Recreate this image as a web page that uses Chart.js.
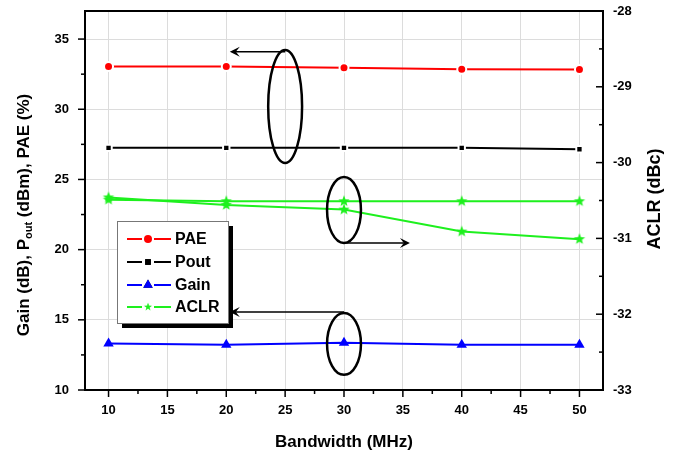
<!DOCTYPE html>
<html>
<head>
<meta charset="utf-8">
<script src="https://cdn.jsdelivr.net/npm/chart.js@4.4.1/dist/chart.umd.min.js"></script>
<style>
  html, body { margin: 0; padding: 0; background: #fff; }
  canvas { display: block; }
</style>
</head>
<body>
<canvas id="chart" width="698" height="466"></canvas>
<script>
// values
const bandwidth = [10, 20, 30, 40, 50];
const pae = [33.05, 33.05, 32.95, 32.85, 32.83];
const pout = [27.25, 27.25, 27.25, 27.25, 27.15];
const gain = [13.32, 13.22, 13.36, 13.22, 13.22];
const aclrLower = [-30.46, -30.56, -30.62, -30.91, -31.01];
const aclrUpper = [-30.49, -30.51, -30.51, -30.51, -30.51];

const xTicks = [10, 15, 20, 25, 30, 35, 40, 45, 50];
const leftTicks = [10, 15, 20, 25, 30, 35];
const rightTicks = [-33, -32, -31, -30, -29, -28];

const FONT = '"Liberation Sans", Arial, sans-serif';
const GREEN = '#1ef01e';

function starCanvas(r, color) {
  const c = document.createElement('canvas');
  c.width = c.height = r * 2 + 2;
  const g = c.getContext('2d');
  g.fillStyle = color;
  g.beginPath();
  for (let i = 0; i < 10; i++) {
    const rad = i % 2 === 0 ? r : r * 0.42;
    const a = -Math.PI / 2 + i * Math.PI / 5;
    g.lineTo(r + 1 + rad * Math.cos(a), r + 1 + rad * Math.sin(a));
  }
  g.closePath();
  g.fill();
  return c;
}
const star = starCanvas(6, GREEN);

const pts = (ys) => bandwidth.map((b, i) => ({ x: b, y: ys[i] }));

function minorBetween(ticks) {
  const out = [];
  for (let i = 0; i < ticks.length - 1; i++) out.push((ticks[i] + ticks[i + 1]) / 2);
  return out;
}

// ticks, frame, titles, ellipses, legend
const extras = {
  id: 'extras',
  afterDatasetsDraw(chart) {
    const { ctx, chartArea: a, scales } = chart;
    const sx = scales.x, sl = scales.y, sr = scales.y2;
    ctx.save();
    ctx.strokeStyle = '#000';
    ctx.lineWidth = 2;
    // top frame
    ctx.beginPath();
    ctx.moveTo(a.left - 1, a.top);
    ctx.lineTo(a.right + 1, a.top);
    ctx.stroke();

    ctx.lineWidth = 1.5;
    const tick = (x1, y1, x2, y2) => { ctx.beginPath(); ctx.moveTo(x1, y1); ctx.lineTo(x2, y2); ctx.stroke(); };
    xTicks.forEach(v => { const p = sx.getPixelForValue(v); tick(p, a.bottom, p, a.bottom + 7); });
    minorBetween(xTicks).forEach(v => { const p = sx.getPixelForValue(v); tick(p, a.bottom, p, a.bottom + 4); });
    leftTicks.forEach(v => { const p = sl.getPixelForValue(v); tick(a.left, p, a.left - 7, p); });
    minorBetween(leftTicks).forEach(v => { const p = sl.getPixelForValue(v); tick(a.left, p, a.left - 4, p); });
    rightTicks.forEach(v => { const p = sr.getPixelForValue(v); tick(a.right, p, a.right - 7, p); });
    minorBetween(rightTicks).forEach(v => { const p = sr.getPixelForValue(v); tick(a.right, p, a.right - 4, p); });

    // ellipses and arrows pointing to the axis each curve belongs to
    const ellipse = (xv, yv, scale, rxv, ryv) => {
      const cx = sx.getPixelForValue(xv), cy = scale.getPixelForValue(yv);
      const rx = Math.abs(sx.getPixelForValue(xv + rxv) - cx);
      const ry = Math.abs(scale.getPixelForValue(yv + ryv) - cy);
      ctx.lineWidth = 2.5;
      ctx.beginPath();
      ctx.ellipse(cx, cy, rx, ry, 0, 0, Math.PI * 2);
      ctx.stroke();
    };
    const arrow = (x1v, x2v, yv, scale) => {
      const x1 = sx.getPixelForValue(x1v), x2 = sx.getPixelForValue(x2v), y = scale.getPixelForValue(yv);
      const dir = Math.sign(x2 - x1);
      ctx.lineWidth = 1.5;
      ctx.beginPath(); ctx.moveTo(x1, y); ctx.lineTo(x2 - dir * 4, y); ctx.stroke();
      ctx.fillStyle = '#000';
      ctx.beginPath();
      ctx.moveTo(x2, y);
      ctx.lineTo(x2 - dir * 10, y - 5);
      ctx.lineTo(x2 - dir * 6, y);
      ctx.lineTo(x2 - dir * 10, y + 5);
      ctx.closePath();
      ctx.fill();
    };
    ellipse(25, 30.2, sl, 1.44, 4.03);
    arrow(25, 20.3, 34.1, sl);
    ellipse(30, -30.625, sr, 1.44, 0.435);
    arrow(30, 35.6, -31.06, sr);
    ellipse(30, 13.28, sl, 1.44, 2.2);
    arrow(30, 20.3, 15.56, sl);

    // axis titles
    ctx.fillStyle = '#000';
    ctx.textBaseline = 'middle';
    ctx.textAlign = 'center';
    ctx.font = 'bold 17px ' + FONT;
    ctx.fillText('Bandwidth (MHz)', (a.left + a.right) / 2, 442);

    ctx.save();
    ctx.translate(655, 199);
    ctx.rotate(-Math.PI / 2);
    ctx.font = 'bold 18px ' + FONT;
    ctx.fillText('ACLR (dBc)', 0, 0);
    ctx.restore();

    ctx.save();
    ctx.translate(24, 215);
    ctx.rotate(-Math.PI / 2);
    ctx.textAlign = 'left';
    const main = 'bold 17px ' + FONT, sub = 'bold 11px ' + FONT;
    const p1 = 'Gain (dB), P', p2 = 'out', p3 = ' (dBm), PAE (%)';
    ctx.font = main; const w1 = ctx.measureText(p1).width, w3 = ctx.measureText(p3).width;
    ctx.font = sub; const w2 = ctx.measureText(p2).width;
    let x = -(w1 + w2 + w3) / 2;
    ctx.font = main; ctx.fillText(p1, x, 0); x += w1;
    ctx.font = sub; ctx.fillText(p2, x, 5); x += w2;
    ctx.font = main; ctx.fillText(p3, x, 0);
    ctx.restore();

    // legend box with shadow
    const lx = 117, ly = 221, lw = 111, lh = 102;
    ctx.fillStyle = '#000';
    ctx.fillRect(lx + 5, ly + 5, lw, lh);
    ctx.fillStyle = '#fff';
    ctx.fillRect(lx, ly, lw, lh);
    ctx.strokeStyle = '#777';
    ctx.lineWidth = 1;
    ctx.strokeRect(lx + 0.5, ly + 0.5, lw, lh);
    chart.data.datasets.forEach((ds, i) => {
      if (ds.hideInLegend) return;
      const y = [239, 262, 285, 307][i];
      ctx.strokeStyle = ds.borderColor;
      ctx.lineWidth = 2;
      ctx.beginPath();
      ctx.moveTo(127, y); ctx.lineTo(142, y);
      ctx.moveTo(154, y); ctx.lineTo(171, y);
      ctx.stroke();
      const style = ds.pointStyle;
      if (style === star) {
        ctx.drawImage(star, 148 - 5, y - 5, 10, 10);
      } else {
        Chart.helpers.drawPoint(ctx, {
          pointStyle: style, radius: ds.pointRadius - 0.5, borderWidth: 0, rotation: 0
        }, 148, y);
        ctx.fillStyle = ds.pointBackgroundColor;
        ctx.fill();
      }
      ctx.fillStyle = '#000';
      ctx.font = 'bold 16px ' + FONT;
      ctx.textAlign = 'left';
      ctx.textBaseline = 'middle';
      ctx.fillText(ds.label, 175, y + 1);
    });
    ctx.restore();
  }
};

const tickFont = { family: FONT, size: 13, weight: 'bold' };

function fixVertical(width) {
  return (s) => { s.width = width; s.paddingTop = 0; s.paddingBottom = 0; };
}

new Chart(document.getElementById('chart').getContext('2d'), {
  type: 'line',
  data: {
    datasets: [
      {
        label: 'PAE', data: pts(pae), yAxisID: 'y',
        borderColor: '#ff0000', borderWidth: 2,
        pointStyle: 'circle', pointRadius: 4.5, pointBackgroundColor: '#ff0000',
        pointBorderColor: '#fff', pointBorderWidth: 2
      },
      {
        label: 'Pout', data: pts(pout), yAxisID: 'y',
        borderColor: '#000000', borderWidth: 2,
        pointStyle: 'rect', pointRadius: 4.5, pointBackgroundColor: '#000000',
        pointBorderColor: '#fff', pointBorderWidth: 2
      },
      {
        label: 'Gain', data: pts(gain), yAxisID: 'y',
        borderColor: '#0000ff', borderWidth: 2,
        pointStyle: 'triangle', pointRadius: 6, pointBackgroundColor: '#0000ff',
        pointBorderColor: '#0000ff', pointBorderWidth: 0
      },
      {
        label: 'ACLR', data: pts(aclrLower), yAxisID: 'y2',
        borderColor: GREEN, borderWidth: 2,
        pointStyle: star, pointRadius: 6
      },
      {
        label: 'ACLR', data: pts(aclrUpper), yAxisID: 'y2', hideInLegend: true,
        borderColor: GREEN, borderWidth: 2,
        pointStyle: star, pointRadius: 6
      }
    ]
  },
  options: {
    responsive: false,
    animation: false,
    devicePixelRatio: 1,
    layout: { padding: { top: 11, left: 0, right: 0, bottom: 0 } },
    plugins: { legend: { display: false }, tooltip: { enabled: false } },
    scales: {
      x: {
        type: 'linear', position: 'bottom', min: 8, max: 52,
        afterBuildTicks: (s) => { s.ticks = xTicks.map(v => ({ value: v })); },
        afterFit: (s) => { s.height = 76; s.paddingLeft = 0; s.paddingRight = 0; },
        ticks: { font: tickFont, color: '#000', padding: 13, maxRotation: 0 },
        grid: { color: '#dcdcdc', lineWidth: 1, drawTicks: false },
        border: { color: '#000', width: 2 }
      },
      y: {
        type: 'linear', position: 'left', min: 10, max: 37,
        afterBuildTicks: (s) => { s.ticks = leftTicks.map(v => ({ value: v })); },
        afterFit: fixVertical(85),
        ticks: { font: tickFont, color: '#000', padding: 16 },
        grid: { color: '#dcdcdc', lineWidth: 1, drawTicks: false },
        border: { color: '#000', width: 2 }
      },
      y2: {
        type: 'linear', position: 'right', min: -33, max: -28,
        afterBuildTicks: (s) => { s.ticks = rightTicks.map(v => ({ value: v })); },
        afterFit: fixVertical(95),
        ticks: { font: tickFont, color: '#000', padding: 10 },
        grid: { drawOnChartArea: false, drawTicks: false },
        border: { color: '#000', width: 2 }
      }
    }
  },
  plugins: [extras]
});
</script>
</body>
</html>
